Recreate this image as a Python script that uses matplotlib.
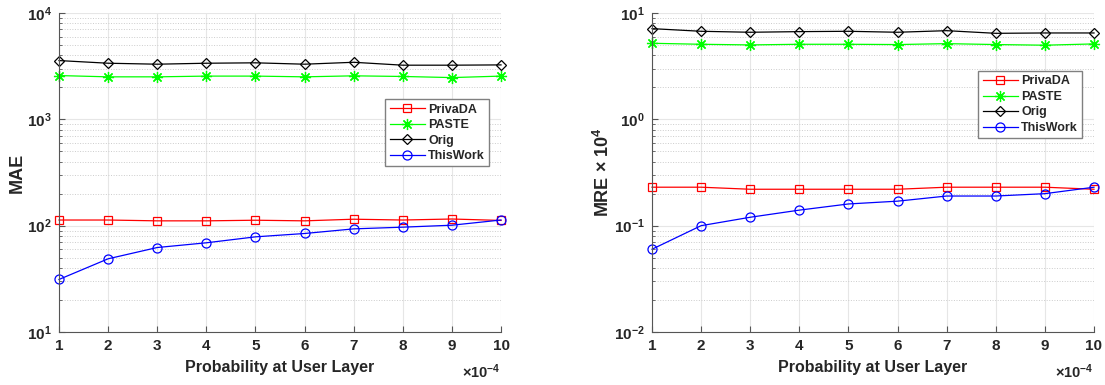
import matplotlib
matplotlib.use("Agg")
import matplotlib.pyplot as plt
from matplotlib.ticker import LogLocator, NullFormatter

plt.rcParams["font.family"] = ["Liberation Sans", "DejaVu Sans"]
plt.rcParams["font.weight"] = "bold"
plt.rcParams["mathtext.fontset"] = "custom"
plt.rcParams["mathtext.rm"] = "Liberation Sans:bold"
plt.rcParams["mathtext.it"] = "Liberation Sans:bold"
plt.rcParams["mathtext.bf"] = "Liberation Sans:bold"

# probability at user layer (x 1e-4)
prob = [1, 2, 3, 4, 5, 6, 7, 8, 9, 10]

# MAE values
mae_privada = [113, 113, 111, 111, 112.5, 111, 115, 113, 115.5, 112]
mae_paste = [2580, 2510, 2510, 2550, 2550, 2510, 2565, 2530, 2470, 2550]
mae_orig = [3570, 3370, 3300, 3370, 3400, 3300, 3440, 3230, 3230, 3250]
mae_thiswork = [31.2, 48.8, 62.3, 69, 78.5, 84.4, 93.3, 96.8, 101, 113]

# MRE x 1e4 values
mre_privada = [0.23, 0.23, 0.22, 0.22, 0.22, 0.22, 0.23, 0.23, 0.23, 0.22]
mre_paste = [5.19, 5.08, 5.01, 5.08, 5.08, 5.05, 5.15, 5.05, 4.98, 5.12]
mre_orig = [7.13, 6.73, 6.59, 6.68, 6.73, 6.59, 6.82, 6.44, 6.49, 6.49]
mre_thiswork = [0.06, 0.10, 0.12, 0.14, 0.16, 0.17, 0.19, 0.19, 0.20, 0.23]

labels = ["PrivaDA", "PASTE", "Orig", "ThisWork"]
colors = ["#ff0000", "#00ff00", "#000000", "#0000ff"]
markers = ["s", (8, 2, 0), "D", "o"]
msizes = [5.5, 8, 5.5, 6.5]
TXT = "#262626"


def draw(ax, series, ylim, ylabel, legend_box):
    for vals, lab, c, m, ms in zip(series, labels, colors, markers, msizes):
        ax.plot(prob, vals, color=c, marker=m, markerfacecolor="none",
                markeredgecolor=c, markersize=ms, markeredgewidth=0.9,
                linewidth=0.9, label=lab, clip_on=False)
    ax.set_yscale("log")
    ax.set_ylim(*ylim)
    ax.set_xlim(1, 10)
    ax.set_xticks(prob)
    ax.yaxis.set_major_locator(LogLocator(base=10, numticks=10))
    ax.yaxis.set_minor_locator(LogLocator(base=10, subs=range(2, 10), numticks=10))
    ax.yaxis.set_minor_formatter(NullFormatter())
    ax.grid(True, which="major", color="#e6e6e6", linewidth=0.8)
    ax.grid(True, which="minor", axis="y", color="#cccccc", linestyle=":",
            linewidth=0.7)
    ax.set_axisbelow(True)
    for s in ["top", "right"]:
        ax.spines[s].set_visible(False)
    for s in ["left", "bottom"]:
        ax.spines[s].set_color("#555555")
        ax.spines[s].set_linewidth(0.8)
    ax.tick_params(which="both", direction="in", colors="#555555",
                   labelcolor=TXT, labelsize=11, top=False, right=False)
    ax.tick_params(which="minor", length=2.5)
    ax.tick_params(which="major", length=4, pad=5)
    ax.set_xlabel("Probability at User Layer", fontsize=11.5,
                  fontweight="bold", color=TXT, labelpad=5)
    ax.set_ylabel(ylabel, fontsize=13, fontweight="bold", color=TXT,
                  labelpad=1)
    ax.text(1.0, -0.125, r"$\times$10$^{-4}$", transform=ax.transAxes,
            ha="right", va="center", fontsize=10.5, color=TXT)
    leg = ax.legend(loc="upper left", bbox_to_anchor=legend_box,
                    fontsize=9, frameon=True, fancybox=False, framealpha=1,
                    handlelength=2.8, handletextpad=0.3, borderpad=0.35,
                    labelspacing=0.28, borderaxespad=0)
    leg.get_frame().set_edgecolor("#808080")
    leg.get_frame().set_linewidth(1.0)
    for t in leg.get_texts():
        t.set_fontweight("bold")
        t.set_color(TXT)


fig = plt.figure(figsize=(11.05, 3.85), dpi=100)
ax1 = fig.add_axes([59 / 1105, 53 / 385, 442 / 1105, 319 / 385])
ax2 = fig.add_axes([652 / 1105, 53 / 385, 442 / 1105, 319 / 385])

draw(ax1, [mae_privada, mae_paste, mae_orig, mae_thiswork], (10, 1e4), "MAE",
     (0.738, 0.73))
draw(ax2, [mre_privada, mre_paste, mre_orig, mre_thiswork], (0.01, 10),
     r"MRE $\times$ 10$^4$", (0.738, 0.818))

fig.savefig("out.png", dpi=100)
